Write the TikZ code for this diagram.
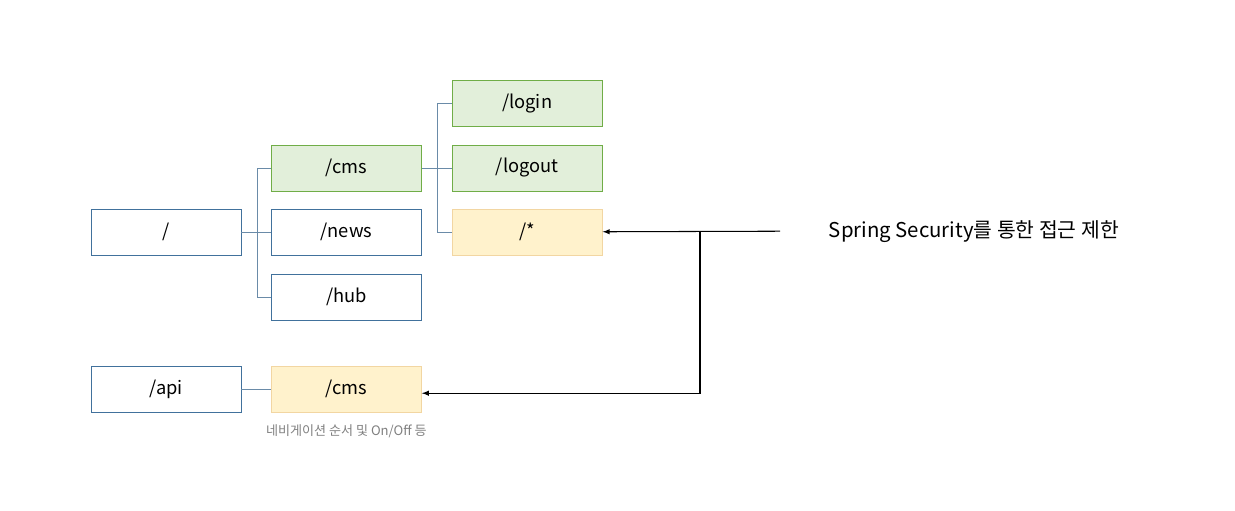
\documentclass[tikz,border=0pt]{standalone}
\usepackage{fontspec}
\setmainfont{Noto Sans CJK KR}
\definecolor{boxblue}{HTML}{41719C}
\definecolor{treeblue}{HTML}{6A8BA8}
\definecolor{greenfill}{HTML}{E2EFDA}
\definecolor{greendraw}{HTML}{70AD47}
\definecolor{yellowfill}{HTML}{FFF2CC}
\definecolor{yellowdraw}{HTML}{F2D6A2}
\tikzset{
  path/.style={draw=boxblue,line width=0.6pt,minimum width=3.75cm,minimum height=1.15cm,inner sep=0pt,font=\fontsize{13}{15}\selectfont},
  open/.style={path,fill=greenfill,draw=greendraw},
  locked/.style={path,fill=yellowfill,draw=yellowdraw},
  tree/.style={draw=treeblue,line width=0.6pt},
  guard/.style={draw=black,line width=0.75pt,->}
}
\begin{document}
\begin{tikzpicture}[>=latex]
    \useasboundingbox (0,0) rectangle (30.875,-12.75);
    % web paths
    \path (4.15,-5.8) node [path](root){/};
    \path (8.66,-4.2) node [open](cms){/cms} (8.66,-5.8) node [path](news){/news} (8.66,-7.43) node [path](hub){/hub};
    \path (13.18,-2.58) node [open](login){/login} (13.18,-4.2) node [open](logout){/logout} (13.18,-5.8) node [locked](star){/*};
    % api paths
    \path (4.15,-9.73) node [path](api){/api} (8.66,-9.73) node [locked](cmsapi){/cms};
    \path[gray] (cmsapi.south) node [below=0.18cm,font=\fontsize{9.3}{11}\selectfont](note){네비게이션 순서 및 On/Off 등};
    \path (20.6,-5.78) node [anchor=west,font=\fontsize{14.5}{17}\selectfont](sec){Spring Security를 통한 접근 제한};
    % tree lines
    \draw[tree] (root.east) -- ++(0.4,0) coordinate (t1) |- (cms);
    \draw[tree] (t1) |- (news);
    \draw[tree] (t1) |- (hub);
    \draw[tree] (cms.east) -- ++(0.38,0) coordinate (t2) |- (login);
    \draw[tree] (t2) |- (logout);
    \draw[tree] (t2) |- (star);
    \draw[tree] (api) -- (cmsapi);
    % security arrows
    \coordinate (src) at (19.5,-5.78);
    \coordinate (fork) at (17.5,-5.78);
    \draw[guard] (src) -- (star);
    \draw[guard] (fork) |- ([yshift=-0.1cm]cmsapi.east);
  \end{tikzpicture}
\end{document}
